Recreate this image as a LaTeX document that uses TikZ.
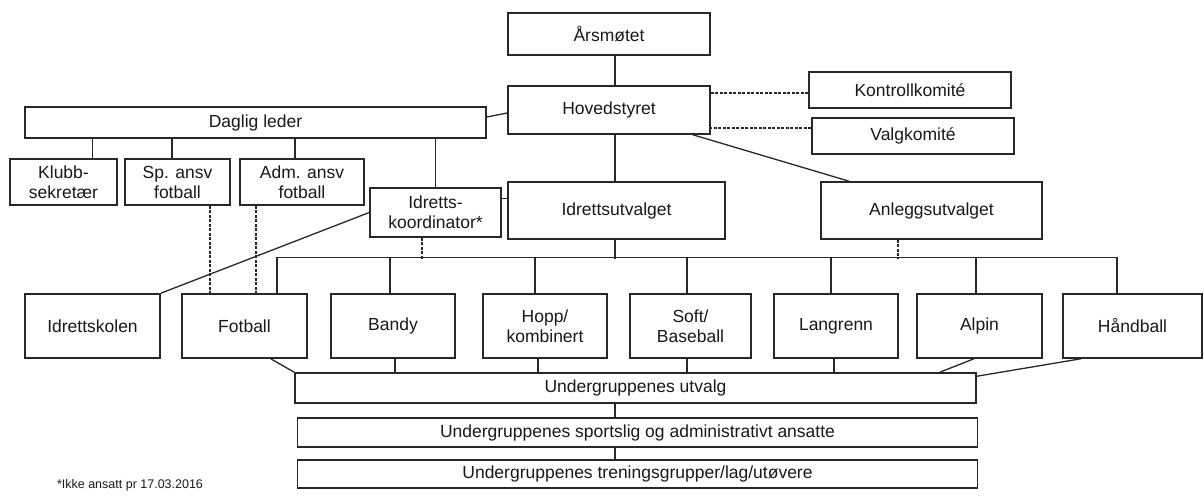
\documentclass[tikz,border=0pt]{standalone}
\usepackage{fontspec}
\setmainfont{Liberation Sans}
\usepackage{tikz}
\usepackage{xcolor}
\definecolor{ColLine}{RGB}{40,40,40}
\definecolor{ColText}{RGB}{25,25,25}
\tikzstyle{OrgBox}=[rectangle,draw=ColLine,fill=white,line width=1.5pt,inner sep=0pt,align=center,
text=ColText,font=\fontsize{17.5}{20}\selectfont]
\tikzstyle{SportBox}=[OrgBox,minimum width=124pt,minimum height=64pt]
\tikzstyle{WideBox}=[OrgBox,minimum width=680pt,minimum height=29pt]
\tikzstyle{OrgLink}=[ColLine,line width=1.3pt]
\tikzstyle{OrgDash}=[ColLine,line width=1.1pt,dash pattern=on 3pt off 1.5pt]

\begin{document}
\begin{tikzpicture}[x=1pt,y=-1pt]
        \useasboundingbox(0,0)rectangle(1204,498);
        \coordinate(spine)at(615,0);
        % board
        \node[OrgBox,minimum width=202pt,minimum height=42pt](aars)at(609,34){Årsmøtet};
        \node[OrgBox,minimum width=202pt,minimum height=48pt](hoved)at(609,110){Hovedstyret};
        \node[OrgBox,minimum width=202pt,minimum height=36pt](kontroll)at(910,90){Kontrollkomité};
        \node[OrgBox,minimum width=202pt,minimum height=36pt](valg)at(913,136){Valgkomité};
        % staff
        \node[OrgBox,minimum width=461pt,minimum height=31pt](daglig)at(255.5,122.5){Daglig leder};
        \node[OrgBox,minimum width=107pt,minimum height=46pt](klubb)at(63.5,182){Klubb-\\sekretær};
        \node[OrgBox,minimum width=105pt,minimum height=46pt](spansv)at(177.5,182){Sp. ansv\\fotball};
        \node[OrgBox,minimum width=124pt,minimum height=46pt](admansv)at(302,182){Adm. ansv\\fotball};
        \node[OrgBox,minimum width=131pt,minimum height=49pt](koord)at(435.5,212.5){Idretts-\\koordinator*};
        \node[OrgBox,minimum width=217pt,minimum height=57pt](iutv)at(616.5,210.5){Idrettsutvalget};
        \node[OrgBox,minimum width=221pt,minimum height=57pt](anlegg)at(931.5,210.5){Anleggsutvalget};
        % groups
        \node[SportBox,minimum width=135pt](iskole)at(92.5,326){Idrettskolen};
        \node[SportBox,minimum width=125pt](fotball)at(244.5,326){Fotball};
        \node[SportBox](bandy)at(393,326){Bandy};
        \node[SportBox](hopp)at(545,326){Hopp/\\kombinert};
        \node[SportBox,minimum width=121pt](soft)at(690.5,326){Soft/\\Baseball};
        \node[SportBox](langrenn)at(836,326){Langrenn};
        \node[SportBox,minimum width=125pt](alpin)at(979.5,326){Alpin};
        \node[SportBox,minimum width=139pt](handball)at(1132.5,326){Håndball};
        \node[WideBox,minimum width=681pt,minimum height=30pt](utvalg)at(635.5,388){Undergruppenes utvalg};
        \node[WideBox](sportslig)at(637.5,432.5){Undergruppenes sportslig og administrativt ansatte};
        \node[WideBox,minimum height=28pt](trening)at(637.5,474){Undergruppenes treningsgrupper/lag/utøvere};
        \node[font=\fontsize{12.5}{14}\selectfont,text=ColText](note)at(130,485){*Ikke ansatt pr 17.03.2016};
        % lines
        \draw[OrgLink](aars.south-|spine)--(hoved.north-|spine);
        \draw[OrgLink](hoved.south-|spine)--(iutv.north-|spine);
        \draw[OrgLink](iutv.south-|spine)--++(0,19);
        \draw[OrgDash]([yshift=-3pt]kontroll.west)--++(-99,0);
        \draw[OrgDash]([yshift=8pt]valg.west)--++(-102,0);
        \draw[OrgLink]([yshift=5.5pt]daglig.east)--([yshift=-3pt]hoved.west);
        \draw[OrgLink]([xshift=-18pt]hoved.south east)--([xshift=29pt]anlegg.north west);
        \draw[OrgLink]([xshift=29pt]klubb.north)--([xshift=-163pt]daglig.south);
        \draw[OrgLink]([xshift=-5.5pt]spansv.north)--([xshift=-83.5pt]daglig.south);
        \draw[OrgLink]([xshift=-7pt]admansv.north)--([xshift=39.5pt]daglig.south);
        \draw[OrgLink](koord.north)--(koord.north|-daglig.south);
        \draw[OrgLink]([yshift=14pt]koord.east)--++(7,0);
        \draw[OrgLink](koord.west)--(iskole.north east);
        \draw[OrgDash]([xshift=32.5pt]spansv.south)--([xshift=-34.5pt]fotball.north);
        \draw[OrgDash]([xshift=-46pt]admansv.south)--([xshift=11.5pt]fotball.north);
        \draw[OrgDash]([xshift=-13.5pt]koord.south)--++(0,21);
        \draw[OrgDash]([xshift=-33.5pt]anlegg.south)--++(0,19);
        \draw[OrgLink]([xshift=32.5pt]fotball.north)--++(0,-36)-|([xshift=-15.5pt]handball.north);
        \foreach \n/\dx in {bandy/-3,hopp/-10,soft/-3.5,langrenn/-5,alpin/-3.5}
            \draw[OrgLink]([xshift=\dx pt]\n.north)--++(0,-36);
        \foreach \n/\dx in {bandy/2,hopp/-7,soft/-3.5,langrenn/-2}
            \draw[OrgLink]([xshift=\dx pt]\n.south)--++(0,15);
        \draw[OrgLink]([xshift=-37pt]fotball.south east)--(utvalg.north west);
        \draw[OrgLink]([xshift=-5.5pt]alpin.south)--([xshift=-37pt]utvalg.north east);
        \draw[OrgLink]([xshift=-51.5pt]handball.south)--([yshift=-4pt]utvalg.north east);
        \draw[OrgLink](utvalg.south-|spine)--(sportslig.north-|spine);
        \draw[OrgLink](sportslig.south-|spine)--(trening.north-|spine);
    \end{tikzpicture}
\end{document}
